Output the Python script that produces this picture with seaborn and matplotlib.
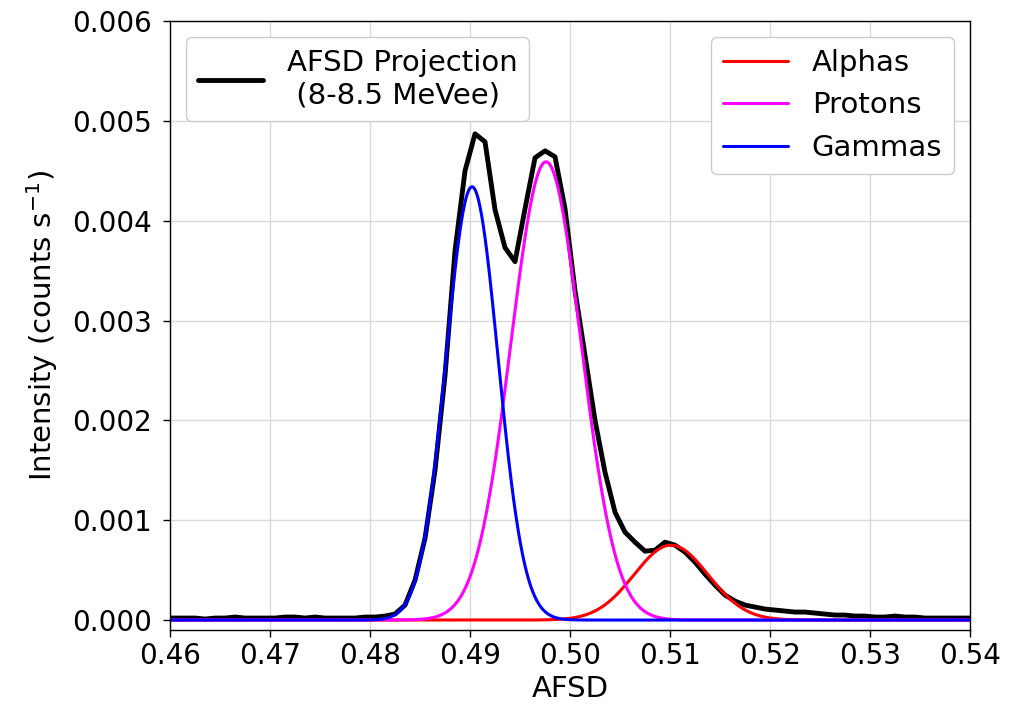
import numpy as np
import pandas as pd
import matplotlib
matplotlib.use("Agg")
import matplotlib.pyplot as plt
import seaborn as sns
from matplotlib.lines import Line2D

# ---------------- data ----------------
# AFSD projection histogram (bin centres every 0.001, starting at 0.4595)
bin_start = 0.4595
bin_width = 0.001
projection = [
    0.00002, 0.00002, 0.00002, 0.00002, 0.00001, 0.00002, 0.00002, 0.00003,
    0.00002, 0.00002, 0.00002, 0.00002, 0.00003, 0.00003, 0.00002, 0.00003,
    0.00002, 0.00002, 0.00002, 0.00002, 0.00003, 0.00003, 0.00004, 0.00006,
    0.00015, 0.00040, 0.00082, 0.00150, 0.00245, 0.00370, 0.00450, 0.00487,
    0.00479, 0.00411, 0.00373, 0.00359, 0.00412, 0.00463, 0.00470, 0.00464,
    0.00412, 0.00330, 0.00265, 0.00200, 0.00148, 0.00108, 0.00088, 0.00078,
    0.00069, 0.00070, 0.00078, 0.00075, 0.00068, 0.00058, 0.00046, 0.00035,
    0.00025, 0.00019, 0.00015, 0.00013, 0.00011, 0.00010, 0.00009, 0.00008,
    0.00008, 0.00007, 0.00006, 0.00005, 0.00005, 0.00004, 0.00004, 0.00003,
    0.00003, 0.00004, 0.00003, 0.00003, 0.00002, 0.00002, 0.00002, 0.00002,
    0.00002, 0.00002,
]
projection_label = "AFSD Projection\n (8-8.5 MeVee)"

# Gaussian fit components
component_names = ["Alphas", "Protons", "Gammas"]
component_colors = ["red", "magenta", "blue"]
amplitudes = [0.00075, 0.00459, 0.00434]
centers = [0.5101, 0.4976, 0.4902]
widths = [0.0037, 0.0035, 0.0026]

x_ticks = [0.46, 0.47, 0.48, 0.49, 0.50, 0.51, 0.52, 0.53, 0.54]
y_ticks = [0.000, 0.001, 0.002, 0.003, 0.004, 0.005, 0.006]

# ---------------- tables ----------------
proj_x = np.round(bin_start + bin_width * np.arange(len(projection)), 4)
df_proj = pd.DataFrame({"AFSD": proj_x, "Intensity": projection})

xfit = np.linspace(0.46, 0.54, 1601)
fit_frames = []
for name, a, c, w in zip(component_names, amplitudes, centers, widths):
    fit_frames.append(pd.DataFrame({
        "AFSD": xfit,
        "Intensity": a * np.exp(-(xfit - c) ** 2 / (2 * w ** 2)),
        "Component": name,
    }))
df_fit = pd.concat(fit_frames, ignore_index=True)

# ---------------- plot ----------------
sns.set_style("white")
plt.rcParams["font.family"] = ["DejaVu Sans"]
plt.rcParams["text.color"] = "black"
plt.rcParams["axes.labelcolor"] = "black"
plt.rcParams["xtick.color"] = "black"
plt.rcParams["ytick.color"] = "black"
FS_TICK = 20
FS = 21

fig = plt.figure(figsize=(10.28, 7.06), dpi=100)
ax = fig.add_axes([0.1654, 0.1076, 0.7782, 0.8626])

sns.lineplot(data=df_proj, x="AFSD", y="Intensity", color="black",
             linewidth=3.5, ax=ax, legend=False, estimator=None, sort=False)
for name, col in zip(component_names, component_colors):
    sns.lineplot(data=df_fit[df_fit["Component"] == name], x="AFSD",
                 y="Intensity", color=col, linewidth=2.2, ax=ax,
                 legend=False, estimator=None, sort=False)

ax.set_xlim(0.46, 0.54)
ax.set_ylim(-0.0001, 0.006)
ax.set_xticks(x_ticks)
ax.set_xticklabels([f"{t:.2f}" for t in x_ticks])
ax.set_yticks(y_ticks)
ax.set_yticklabels([f"{t:.3f}" for t in y_ticks])
ax.tick_params(axis="both", labelsize=FS_TICK, direction="out", length=5,
               width=1, color="black", labelcolor="black",
               bottom=True, left=True)
ax.tick_params(axis="y", pad=8)
ax.grid(True, color="#d9d9d9", linewidth=1)
for sp in ax.spines.values():
    sp.set_color("black")
    sp.set_linewidth(1)
ax.set_xlabel("AFSD", fontsize=FS, color="black")
ax.set_ylabel("Intensity (counts s$^{-1}$)", fontsize=FS, color="black",
              labelpad=9)

proj_handle = [Line2D([], [], color="black", linewidth=3.5)]
leg1 = ax.legend(proj_handle, [projection_label], loc="upper left",
                 bbox_to_anchor=(0.0, 1.0), borderaxespad=0.55, fontsize=FS,
                 handlelength=2.25, handletextpad=0.8, framealpha=1,
                 edgecolor="#cccccc")
ax.add_artist(leg1)
comp_handles = [Line2D([], [], color=c, linewidth=2.2) for c in component_colors]
ax.legend(comp_handles, component_names, loc="upper right",
          bbox_to_anchor=(1.0, 1.0), borderaxespad=0.55, fontsize=FS,
          handlelength=2.25, handletextpad=0.8, framealpha=1,
          edgecolor="#cccccc")

fig.savefig("out.png", dpi=100)
